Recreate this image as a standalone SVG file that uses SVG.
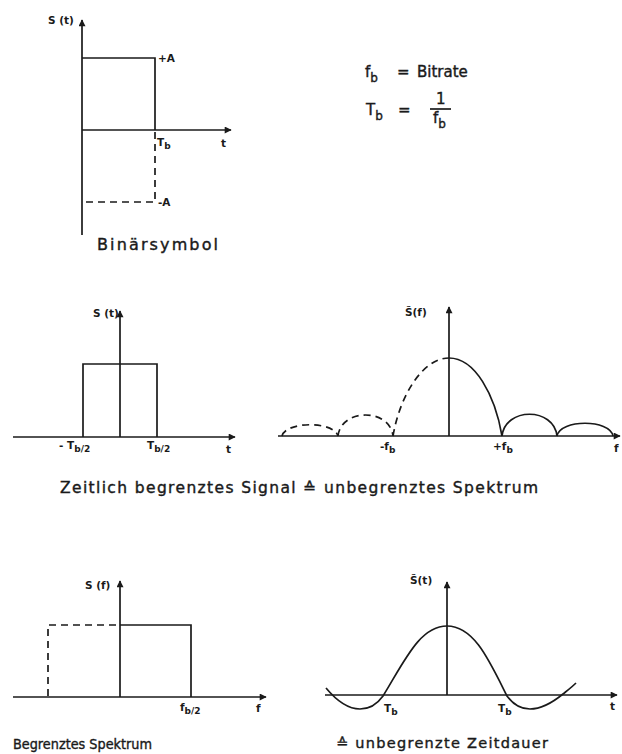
<svg xmlns="http://www.w3.org/2000/svg" width="622" height="754" viewBox="0 0 622 754">
<style>
.ax{stroke:#1a1a1a;stroke-width:1.7;fill:none}
.ln{stroke:#1a1a1a;stroke-width:1.7;fill:none}
.ds{stroke:#1a1a1a;stroke-width:1.7;fill:none;stroke-dasharray:7,5}
text{font-family:"DejaVu Sans","Liberation Sans",sans-serif;fill:#1a1a1a}
.sm{font-size:10.5px;font-weight:bold}
.md{font-size:15px;stroke:#1a1a1a;stroke-width:0.4}
.cap{stroke:#1a1a1a;stroke-width:0.4}
.sub{font-size:9px}
</style>
<defs>
<marker id="ar" viewBox="0 0 10 10" refX="9" refY="5" markerWidth="9" markerHeight="7" markerUnits="userSpaceOnUse" orient="auto">
<path d="M0,0 L10,5 L0,10 z" fill="#1a1a1a"/>
</marker>
</defs>
<rect width="622" height="754" fill="#ffffff"/>

<g id="connectors">
<line class="ax" x1="82" y1="235" x2="82" y2="20" marker-end="url(#ar)"/>
<line class="ax" x1="82" y1="130" x2="231" y2="130" marker-end="url(#ar)"/>
<line class="ax" x1="13" y1="437" x2="235" y2="437" marker-end="url(#ar)"/>
<line class="ax" x1="120" y1="437" x2="120" y2="311" marker-end="url(#ar)"/>
<line class="ax" x1="278" y1="436" x2="620" y2="436" marker-end="url(#ar)"/>
<line class="ax" x1="449" y1="436" x2="449" y2="307" marker-end="url(#ar)"/>
<line class="ax" x1="13" y1="697" x2="266" y2="697" marker-end="url(#ar)"/>
<line class="ax" x1="120" y1="697" x2="120" y2="581" marker-end="url(#ar)"/>
<line class="ax" x1="325" y1="695" x2="617" y2="695" marker-end="url(#ar)"/>
<line class="ax" x1="447" y1="695" x2="447" y2="582" marker-end="url(#ar)"/>
</g>

<g id="binaersymbol">
<polyline class="ln" points="82,58 155,58 155,130"/>
<polyline class="ds" points="155,132 155,202 82,202"/>
<text class="sm" x="48" y="24">S (t)</text>
<text class="sm" x="158" y="62">+A</text>
<text class="sm" x="158" y="206">-A</text>
<text class="sm" x="157" y="146">T<tspan class="sub" dy="3">b</tspan></text>
<text class="sm" x="221" y="147">t</text>
<text class="cap" font-size="16" x="97" y="250" textLength="121" lengthAdjust="spacing">Binärsymbol</text>
</g>

<g id="formeln">
<text class="md" x="365" y="77">f<tspan dy="5" font-size="12">b</tspan><tspan dy="-5" x="397">=</tspan><tspan x="417">Bitrate</tspan></text>
<text class="md" x="366" y="115">T<tspan dy="5" font-size="12">b</tspan><tspan dy="-5" x="398">=</tspan></text>
<text class="md" x="436" y="104">1</text>
<line class="ln" x1="430" y1="109" x2="451" y2="109" stroke-width="1.5"/>
<text class="md" x="433" y="123">f<tspan dy="5" font-size="12">b</tspan></text>
</g>

<g id="signal">
<polyline class="ln" points="83,437 83,364 157,364 157,437"/>
<text class="sm" x="93" y="317">S (t)</text>
<text class="sm" x="59" y="449">- T<tspan class="sub" dy="3">b/2</tspan></text>
<text class="sm" x="147" y="449">T<tspan class="sub" dy="3">b/2</tspan></text>
<text class="sm" x="226" y="453">t</text>
</g>

<g id="spektrum">
<path class="ds" d="M393,436 C400,395 423,358 449,358"/>
<path class="ln" d="M449,358 C475,358 495,395 502,436"/>
<path class="ln" d="M502,436 C505,407 554,407 557,436"/>
<path class="ln" d="M557,436 C560,419 610,419 613,436"/>
<path class="ds" d="M338,436 C341,408 390,408 393,436"/>
<path class="ds" d="M282,436 C286,421 334,421 338,436"/>
<text class="sm" x="405" y="316">S̃(f)</text>
<text class="sm" x="380" y="450">-f<tspan class="sub" dy="3">b</tspan></text>
<text class="sm" x="493" y="450">+f<tspan class="sub" dy="3">b</tspan></text>
<text class="sm" x="614" y="452">f</text>
</g>

<text id="caption1" class="cap" font-size="15.5" x="60" y="493" textLength="478" lengthAdjust="spacing">Zeitlich begrenztes Signal ≙ unbegrenztes Spektrum</text>

<g id="begrenztes-spektrum">
<polyline class="ds" points="48,696 48,625 120,625"/>
<polyline class="ln" points="120,625 191,625 191,697"/>
<text class="sm" x="85" y="589">S (f)</text>
<text class="sm" x="180" y="711">f<tspan class="sub" dy="3">b/2</tspan></text>
<text class="sm" x="256" y="712">f</text>
<text class="cap" font-size="14.5" x="13" y="749" textLength="139" lengthAdjust="spacingAndGlyphs">Begrenztes Spektrum</text>
</g>

<g id="zeitdauer">
<path class="ln" d="M326,688 C336,700 348,709 360,709 C371,709 378,703 383,696 C405,660 420,626 447,626 C474,626 489,660 507,696 C513,704 520,709 530,709 C542,709 552,703 563,694 C568,690 572,687 576,683"/>
<text class="sm" x="410" y="584">S̃(t)</text>
<text class="sm" x="384" y="712">T<tspan class="sub" dy="3">b</tspan></text>
<text class="sm" x="498" y="712">T<tspan class="sub" dy="3">b</tspan></text>
<text class="sm" x="610" y="710">t</text>
<text class="cap" font-size="14.5" x="336" y="748" textLength="212" lengthAdjust="spacing">≙ unbegrenzte Zeitdauer</text>
</g>
</svg>
